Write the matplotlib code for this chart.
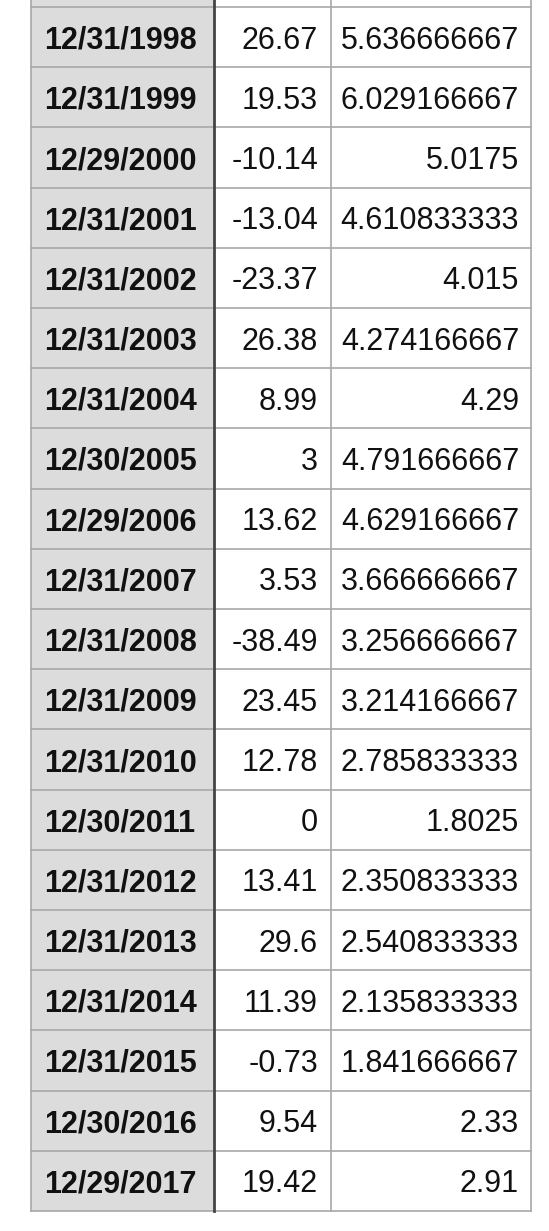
import matplotlib
matplotlib.use("Agg")
import matplotlib.pyplot as plt
from matplotlib.patches import Rectangle

dates = ["12/31/1998","12/31/1999","12/29/2000","12/31/2001","12/31/2002","12/31/2003",
         "12/31/2004","12/30/2005","12/29/2006","12/31/2007","12/31/2008","12/31/2009",
         "12/31/2010","12/30/2011","12/31/2012","12/31/2013","12/31/2014","12/31/2015",
         "12/30/2016","12/29/2017"]
returns = ["26.67","19.53","-10.14","-13.04","-23.37","26.38","8.99","3","13.62","3.53",
           "-38.49","23.45","12.78","0","13.41","29.6","11.39","-0.73","9.54","19.42"]
rates = ["5.636666667","6.029166667","5.0175","4.610833333","4.015","4.274166667","4.29",
         "4.791666667","4.629166667","3.666666667","3.256666667","3.214166667","2.785833333",
         "1.8025","2.350833333","2.540833333","2.135833333","1.841666667","2.33","2.91"]

W, H = 549, 1231
fig = plt.figure(figsize=(W/100, H/100), dpi=100)
ax = fig.add_axes([0, 0, 1, 1])
ax.set_xlim(0, W); ax.set_ylim(H, 0); ax.axis("off")

x0, x1, x2, x3 = 31, 214, 331, 531
top, bot = 7, 1211
n = len(dates)
rh = (bot - top) / n
grid = "#a8a8a8"
font = "Liberation Sans"
fs = 22

ax.add_patch(Rectangle((x0, -5), x1 - x0, bot + 5, facecolor="#dcdcdc", edgecolor="none"))
for i in range(n + 1):
    y = top + i * rh
    ax.plot([x0, x3], [y, y], color=grid, lw=1.2)
for x in (x0, x2, x3):
    ax.plot([x, x], [-5, bot], color=grid, lw=1.2)
ax.plot([x1, x1], [-5, bot], color="#444444", lw=2)

for i in range(n):
    yc = top + (i + 0.5) * rh
    ax.text(x0 + 13, yc, dates[i], fontsize=fs, fontweight="bold", family=font,
            ha="left", va="center_baseline", color="#111111")
    ax.text(x2 - 13, yc, returns[i], fontsize=fs, family=font,
            ha="right", va="center_baseline", color="#111111")
    ax.text(x3 - 12, yc, rates[i], fontsize=fs, family=font,
            ha="right", va="center_baseline", color="#111111")

fig.savefig("out.png", dpi=100, facecolor="white")
